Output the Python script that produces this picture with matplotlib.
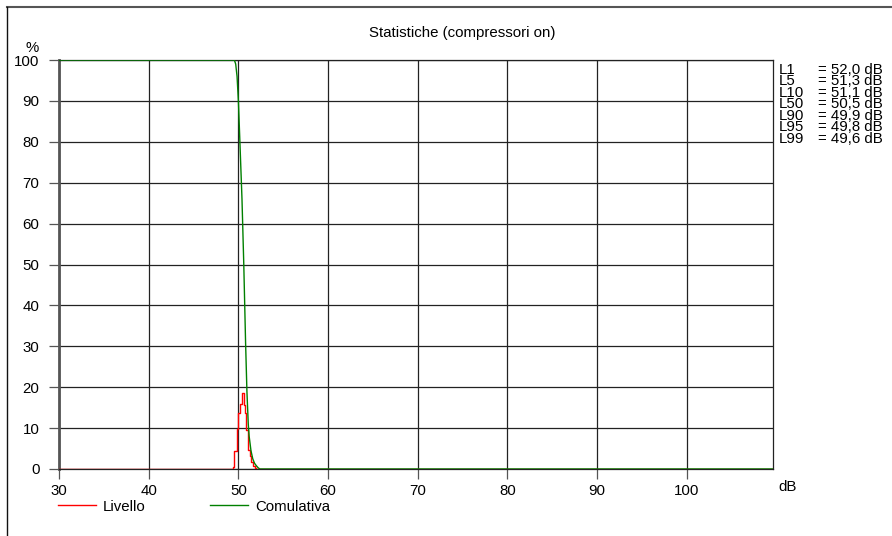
import matplotlib
matplotlib.use("Agg")
import matplotlib.pyplot as plt
from matplotlib.lines import Line2D

plt.rcParams['font.family'] = ['Liberation Sans', 'DejaVu Sans']
plt.rcParams['font.size'] = 10.8

# Distribuzione dei livelli (bordo sinistro del gradino in dB, % per classe)
livello_db = [30.0, 49.35, 49.5, 49.8, 50.0, 50.2, 50.35, 50.6, 50.7, 50.85,
              51.05, 51.25, 51.45, 51.6, 51.85, 52.0, 109.6]
livello_pct = [0.0, 0.5, 4.5, 9.7, 13.6, 15.9, 18.7, 15.6, 13.6, 9.5,
               4.6, 3.2, 1.8, 0.7, 0.3, 0.0, 0.0]

# Curva cumulativa (% di superamento)
cumul_db = [30.0, 49.55, 49.7, 49.85, 50.0, 50.2, 50.4, 50.6, 50.8, 50.95,
            51.1, 51.2, 51.4, 51.6, 51.8, 52.0, 52.2, 52.4, 109.6]
cumul_pct = [100, 100, 99, 96, 90, 78, 66, 50, 31, 19,
             11, 8, 4.5, 2.5, 1.4, 0.8, 0.3, 0, 0]

# Livelli percentili
stat_nomi = ["L1", "L5", "L10", "L50", "L90", "L95", "L99"]
stat_val = ["52,0", "51,3", "51,1", "50,5", "49,9", "49,8", "49,6"]

x_ticks = [30, 40, 50, 60, 70, 80, 90, 100]
y_ticks = [0, 10, 20, 30, 40, 50, 60, 70, 80, 90, 100]

W, H = 892, 536
fig = plt.figure(figsize=(W / 100, H / 100), dpi=100)
ax = fig.add_axes([59 / W, 1 - 469 / H, (773 - 59) / W, (469 - 60) / H])

ax.set_xlim(30, 109.6)
ax.set_ylim(0, 100)
ax.set_xticks(x_ticks)
ax.set_yticks(y_ticks)
ax.grid(True, color='#222222', linewidth=0.9)
ax.tick_params(length=7, width=0.9, color='#555555', labelsize=10.8)
ax.tick_params(axis='y', pad=7)
ax.tick_params(axis='x', pad=4)

for s in ['right', 'bottom', 'top']:
    ax.spines[s].set_color('#222222')
    ax.spines[s].set_linewidth(0.9)
ax.spines['left'].set_color('#555555')
ax.spines['left'].set_linewidth(2)

ax.step(livello_db, livello_pct, where='post', color='#ff0000', linewidth=1, zorder=3)
ax.plot(cumul_db, cumul_pct, color='#008000', linewidth=1, zorder=4)

# titolo
fig.text(462 / W, 1 - 33 / H, "Statistiche (compressori on)", ha='center', va='center')

# etichette assi
fig.text(32 / W, 1 - 48 / H, "%", ha='center', va='center')
fig.text(788 / W, 1 - 487 / H, "dB", ha='center', va='center')

# statistiche a destra
fig.text(779 / W, 1 - 63 / H, "\n".join(stat_nomi), ha='left', va='top',
         linespacing=0.77)
fig.text(818 / W, 1 - 63 / H, "\n".join("= " + v + " dB" for v in stat_val),
         ha='left', va='top', linespacing=0.77)

# legenda
fig.add_artist(Line2D([58 / W, 96 / W], [1 - 505 / H] * 2, color='#ff0000', linewidth=1))
fig.text(103 / W, 1 - 507 / H, "Livello", ha='left', va='center')
fig.add_artist(Line2D([210 / W, 248 / W], [1 - 505 / H] * 2, color='#008000', linewidth=1))
fig.text(255 / W, 1 - 507 / H, "Comulativa", ha='left', va='center')

# cornice
fig.add_artist(Line2D([7 / W, 1], [1 - 7 / H] * 2, color='#555555', linewidth=1.5))
fig.add_artist(Line2D([7 / W] * 2, [0, 1 - 7 / H], color='#111111', linewidth=1))

fig.savefig("out.png", dpi=100)
